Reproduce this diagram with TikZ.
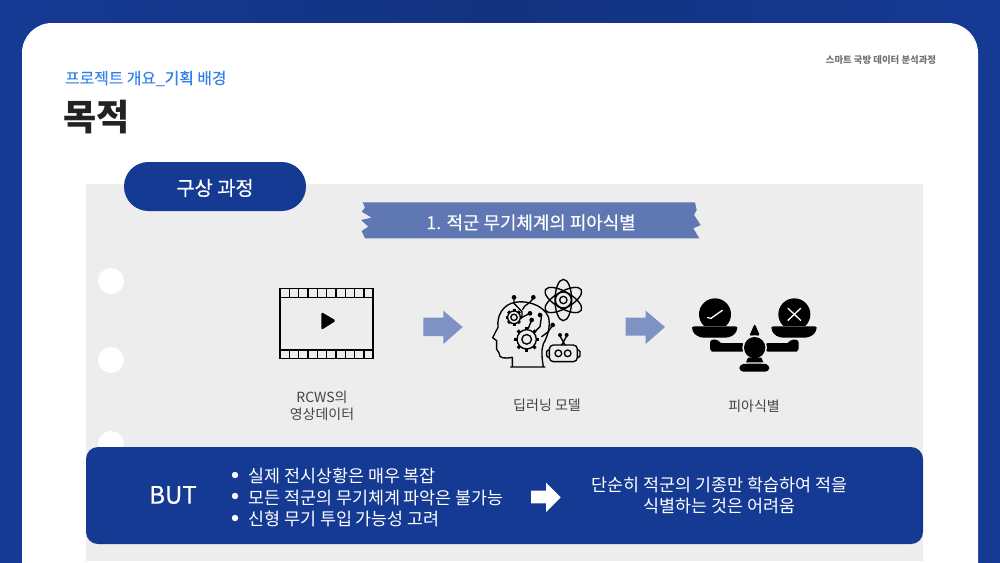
\documentclass[tikz,border=0pt]{standalone}
\usepackage{fontspec}
\setmainfont{Noto Sans CJK KR}
\newfontfamily\medfont[FakeBold=0.35]{Noto Sans CJK KR}
\usetikzlibrary{calc}
\definecolor{navy}{HTML}{153A94}
\definecolor{bgdark}{HTML}{14327F}
\definecolor{panel}{HTML}{EDEDED}
\definecolor{ribbon}{HTML}{5F78B4}
\definecolor{arrowblue}{HTML}{7F92C4}
\definecolor{subblue}{HTML}{2F80ED}
\definecolor{ink}{HTML}{222222}
\definecolor{labelgray}{HTML}{444444}
\tikzset{
  lbl/.style={font=\fontsize{14}{17.5}\selectfont,text=labelgray,align=center,inner sep=0pt},
  wtxt/.style={text=white,inner sep=0pt,align=center},
  flowarrow/.style={fill=arrowblue,draw=none},
  hole/.style={fill=white,draw=none},
  ic/.style={draw=black,line width=1.35pt,line cap=round,line join=round,fill=none},
  iconz/.style={x=0.33333pt,y=-0.33333pt}
}
\newcommand{\gearicon}[3]{% x,y,r in zoom units
  \foreach \a in {0,45,...,315}{
    \draw[black,line width=3pt] ($(#1,#2)+(\a:#3)$) -- ($(#1,#2)+(\a:#3*1.3)$);
  }
  \draw[ic] (#1,#2) circle[radius=#3];
  \draw[ic] (#1,#2) circle[radius=#3*0.5];
}
\begin{document}
\begin{tikzpicture}[x=1pt,y=-1pt]
\useasboundingbox (0,0) rectangle (1000,562);
\shade[left color=navy,right color=navy,middle color=bgdark] (0,0) rectangle (1000,562);
% card
\begin{scope}
\clip (0,0) rectangle (1000,562);
\fill[white,rounded corners=30pt] (22,600) -- (22,23) -- (978,23) -- (978,600) -- cycle;
\end{scope}
% panel
\fill[panel] (86,184) rectangle (923,561);
\fill[hole] (111,281) circle[radius=13];
\fill[hole] (111,360) circle[radius=13];
\fill[hole] (111,444) circle[radius=13];
% headers
\node[anchor=base west,inner sep=0pt,text=subblue,font=\fontsize{15.8}{18}\selectfont\medfont] (sub) at (65,84) {프로젝트 개요\_기획 배경};
\node[anchor=base west,inner sep=0pt,text=ink,font=\fontsize{36}{40}\selectfont\bfseries] (title) at (63,130) {목적};
\node[anchor=base,inner sep=0pt,text=black!55,font=\fontsize{9.4}{11}\selectfont\bfseries] (course) at (881,63.5) {스마트 국방 데이터 분석과정};
% pill
\fill[navy,rounded corners=24.4pt] (124,162) rectangle (306,211);
\node[wtxt,font=\fontsize{19.8}{23}\selectfont\medfont] (pilltxt) at (215,188) {구상 과정};
% ribbon
\begin{scope}[shift={(350,195)},iconz]
\fill[ribbon] (38,22) -- (1035,22) -- (1040,45) -- (1032,60) -- (1052,90) -- (1030,100) -- (1048,130) -- (45,130) -- (35,108) -- (55,95) -- (33,75) -- (65,68) -- (35,50) -- (45,38) -- cycle;
\end{scope}
\node[wtxt,font=\fontsize{17.9}{21}\selectfont\medfont] (ribtxt) at (531,222.5) {1. 적군 무기체계의 피아식별};
% film icon
\begin{scope}[shift={(260,270)},iconz]
\draw[black,line width=1.5pt] (60,56) rectangle (339,266);
\draw[black,line width=1.5pt] (60,82) -- (339,82) (60,240) -- (339,240);
\foreach \i in {1,...,9}{
  \draw[black,line width=1.3pt] ({60+\i*28},56) -- ({60+\i*28},82);
  \draw[black,line width=1.3pt] ({60+\i*28},240) -- ({60+\i*28},266);
}
\fill[black,rounded corners=1.5pt] (184,126) -- (228,152) -- (184,180) -- cycle;
\path[flowarrow] (490,143) -- (550,143) -- (550,122) -- (608,171) -- (550,222) -- (550,198) -- (490,198) -- cycle;
\end{scope}
\begin{scope}[shift={(480,270)},iconz]
\path[flowarrow] (437,143) -- (497,143) -- (497,122) -- (555,171) -- (497,222) -- (497,197) -- (437,197) -- cycle;
% head
\draw[ic] (92,291) -- (195,291) (190,291) .. controls (186,265) and (183,240) .. (190,222)
 .. controls (205,195) and (212,165) .. (205,140) .. controls (190,105) and (140,90) .. (105,97)
 .. controls (70,103) and (50,135) .. (54,172) -- (38,203) -- (50,212) -- (50,228)
 .. controls (46,240) and (58,245) .. (58,252) .. controls (56,265) and (75,266) .. (97,262) -- (97,291);
% gears
\gearicon{102}{142}{19}
\gearicon{140}{208}{29}
% circuit
\draw[ic] (102,82) -- (102,100) -- (126,125) -- (126,142);
\draw[ic] (160,82) .. controls (150,105) and (135,100) .. (128,118);
\draw[ic] (126,142) -- (150,130);
\draw[ic] (155,150) -- (145,175);
\draw[ic] (185,135) -- (180,170) -- (165,185);
\draw[ic] (218,165) -- (205,185) -- (185,200);
\foreach \p in {(102,82),(160,82),(155,150),(218,165),(150,130),(180,135)}{
  \fill[black] \p circle[radius=7];
}
% atom
\draw[ic] (250,90) circle[radius=11];
\draw[ic] (250,90) circle[radius=24];
\draw[ic] (250,90) ellipse[x radius=25,y radius=62];
\draw[ic,rotate around={60:(250,90)}] (250,90) ellipse[x radius=25,y radius=62];
\draw[ic,rotate around={-60:(250,90)}] (250,90) ellipse[x radius=25,y radius=62];
% robot
\draw[ic,rounded corners=4pt] (208,225) rectangle (292,275);
\draw[ic,rounded corners=1.5pt] (208,240) -- (200,240) -- (200,262) -- (208,262);
\draw[ic,rounded corners=1.5pt] (292,240) -- (300,240) -- (300,262) -- (292,262);
\draw[ic] (235,250) circle[radius=10];
\draw[ic] (263,250) circle[radius=10];
\draw[ic] (240,198) -- (255,225) (260,198) -- (245,225);
\fill[black] (240,195) circle[radius=6];
\fill[black] (260,195) circle[radius=6];
\end{scope}
% scales icon
\begin{scope}[shift={(680,285)},iconz]
\begin{scope}
\clip (40,30) rectangle (420,120);
\fill[black] (105,88) circle[radius=48];
\fill[black] (343,88) circle[radius=48];
\end{scope}
\draw[white,line width=1.3pt,line cap=round] (83,98) -- (93,100) -- (127,76);
\draw[white,line width=1.3pt,line cap=round] (324,70) -- (362,106) (362,70) -- (324,106);
\fill[black,rounded corners=2pt] (36,124) -- (172,124) -- (172,132) .. controls (165,150) and (150,158) .. (130,158) -- (78,158) .. controls (58,158) and (43,150) .. (36,132) -- cycle;
\fill[black,rounded corners=2pt] (274,124) -- (410,124) -- (410,132) .. controls (403,150) and (388,158) .. (368,158) -- (316,158) .. controls (296,158) and (281,150) .. (274,132) -- cycle;
\fill[black,rounded corners=3pt] (90,164) -- (116,164) -- (116,174) -- (195,174) -- (195,200) -- (105,200) .. controls (95,200) and (90,192) .. (90,182) -- cycle;
\fill[black,rounded corners=3pt] (356,164) -- (330,164) -- (330,174) -- (255,174) -- (255,200) -- (341,200) .. controls (351,200) and (356,192) .. (356,182) -- cycle;
\fill[black,rounded corners=2pt] (224,116) -- (240,152) -- (208,152) -- cycle;
\fill[panel] (224,188) circle[radius=37];
\fill[black] (224,188) circle[radius=32];
\fill[black] (204,218) -- (244,218) -- (250,232) -- (198,232) -- cycle;
\fill[black,rounded corners=4pt] (178,238) -- (200,236) -- (248,236) -- (268,238) -- (268,260) -- (178,260) -- cycle;
\end{scope}
% labels
\node[lbl] (l1) at (322,406) {RCWS의\\영상데이터};
\node[lbl] (l2) at (547,405.5) {딥러닝 모델};
\node[lbl] (l3) at (754,406.5) {피아식별};
% BUT box
\fill[navy,rounded corners=12pt] (86,447) rectangle (923,544);
\node[wtxt,font=\fontsize{24}{28}\selectfont\medfont] (but) at (173,495) {BUT};
\foreach \yy in {475,496,518}{ \fill[white] (235,\yy) circle[radius=3.2]; }
\node[anchor=west,wtxt,font=\fontsize{17.4}{21}\selectfont] (b1) at (248,476) {실제 전시상황은 매우 복잡};
\node[anchor=west,wtxt,font=\fontsize{17.4}{21}\selectfont] (b2) at (248,497.5) {모든 적군의 무기체계 파악은 불가능};
\node[anchor=west,wtxt,font=\fontsize{17.4}{21}\selectfont] (b3) at (248,519) {신형 무기 투입 가능성 고려};
\begin{scope}[shift={(520,440)},iconz]
\fill[white] (33,152) -- (78,152) -- (78,128) -- (122,172) -- (78,216) -- (78,190) -- (33,190) -- cycle;
\end{scope}
\node[wtxt,font=\fontsize{17.4}{21.5}\selectfont] (res) at (719.5,495.5) {단순히 적군의 기종만 학습하여 적을\\식별하는 것은 어려움};
\end{tikzpicture}
\end{document}
